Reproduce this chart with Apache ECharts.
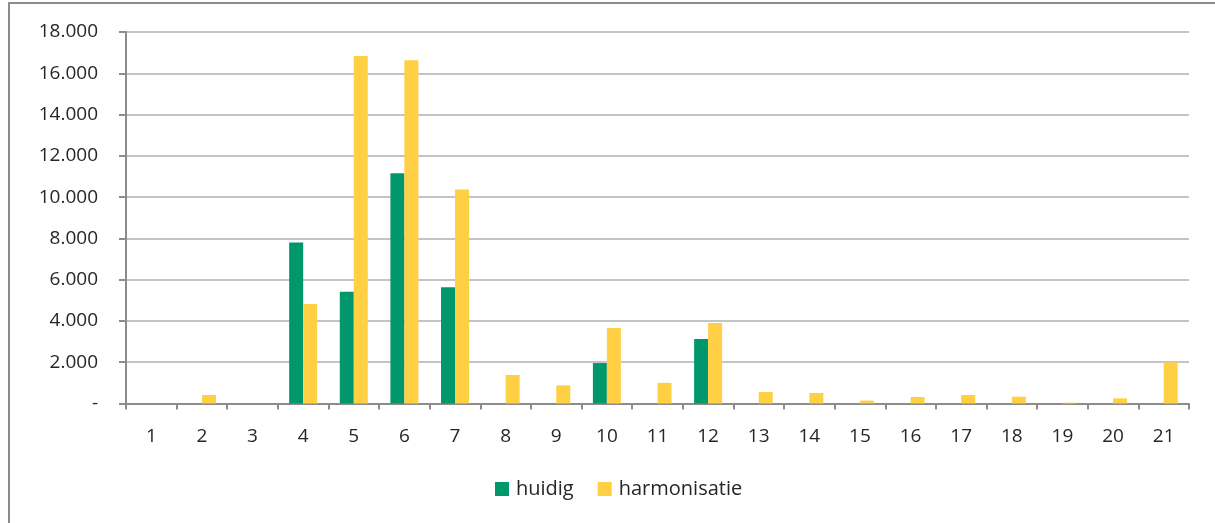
<!DOCTYPE html>
<html>
<head>
<meta charset="utf-8">
<script src="https://cdn.jsdelivr.net/npm/echarts@6/dist/echarts.min.js"></script>
<style>
html, body { margin: 0; padding: 0; background: #fff; }
#chart { width: 1215px; height: 523px; }
</style>
</head>
<body>
<div id="chart"></div>
<script>
// categories (x axis)
const categories = ['1','2','3','4','5','6','7','8','9','10','11','12','13','14','15','16','17','18','19','20','21'];
// series values
const huidig = [0, 0, 0, 7800, 5410, 11160, 5630, 0, 0, 1960, 0, 3120, 0, 0, 0, 0, 0, 0, 0, 0, 0];
const harmonisatie = [0, 410, 0, 4820, 16840, 16630, 10370, 1380, 880, 3660, 1000, 3900, 560, 510, 140, 315, 410, 330, 40, 250, 2000];
// y axis range
const yMin = 0;
const yMax = 18000;
const yStep = 2000;

function fmtThousands(v) {
    if (v === 0) return '-';
    return String(v).replace(/\B(?=(\d{3})+(?!\d))/g, '.');
}

let chart = echarts.init(document.getElementById('chart'));
chart.setOption({
    animation: false,
    textStyle: { fontFamily: 'Open Sans', color: '#262626' },
    graphic: [{
        type: 'rect',
        shape: { x: 9, y: 3, width: 1300, height: 600 },
        style: { fill: 'none', stroke: '#8c8c8c', lineWidth: 2 }
    }],
    grid: {
        left: 126,
        right: 26,
        top: 32,
        bottom: 119.5
    },
    legend: {
        bottom: 19,
        left: 490,
        icon: 'rect',
        itemWidth: 14,
        itemHeight: 14,
        itemGap: 24,
        textStyle: { fontSize: 20, color: '#262626', padding: [0, 0, 0, 2] },
        data: ['huidig', 'harmonisatie']
    },
    xAxis: {
        type: 'category',
        data: categories,
        axisLine: { lineStyle: { color: '#8c8c8c', width: 2 } },
        axisTick: { show: true, length: 6, lineStyle: { color: '#8c8c8c', width: 2 } },
        axisLabel: { fontSize: 19, color: '#262626', margin: 24 }
    },
    yAxis: {
        type: 'value',
        min: yMin,
        max: yMax,
        interval: yStep,
        axisLine: { show: true, lineStyle: { color: '#8c8c8c', width: 2 } },
        axisTick: { show: true, length: 7, lineStyle: { color: '#8c8c8c', width: 2 } },
        splitLine: { lineStyle: { color: '#c4c4c4', width: 2 } },
        axisLabel: {
            fontSize: 19,
            color: '#262626',
            margin: 28,
            formatter: fmtThousands
        }
    },
    series: [
        {
            name: 'huidig',
            type: 'bar',
            data: huidig,
            barWidth: 14,
            barGap: '0%',
            itemStyle: { color: '#00976d' }
        },
        {
            name: 'harmonisatie',
            type: 'bar',
            data: harmonisatie,
            barWidth: 14,
            barGap: '0%',
            itemStyle: { color: '#ffcf44' }
        }
    ]
});
</script>
</body>
</html>
